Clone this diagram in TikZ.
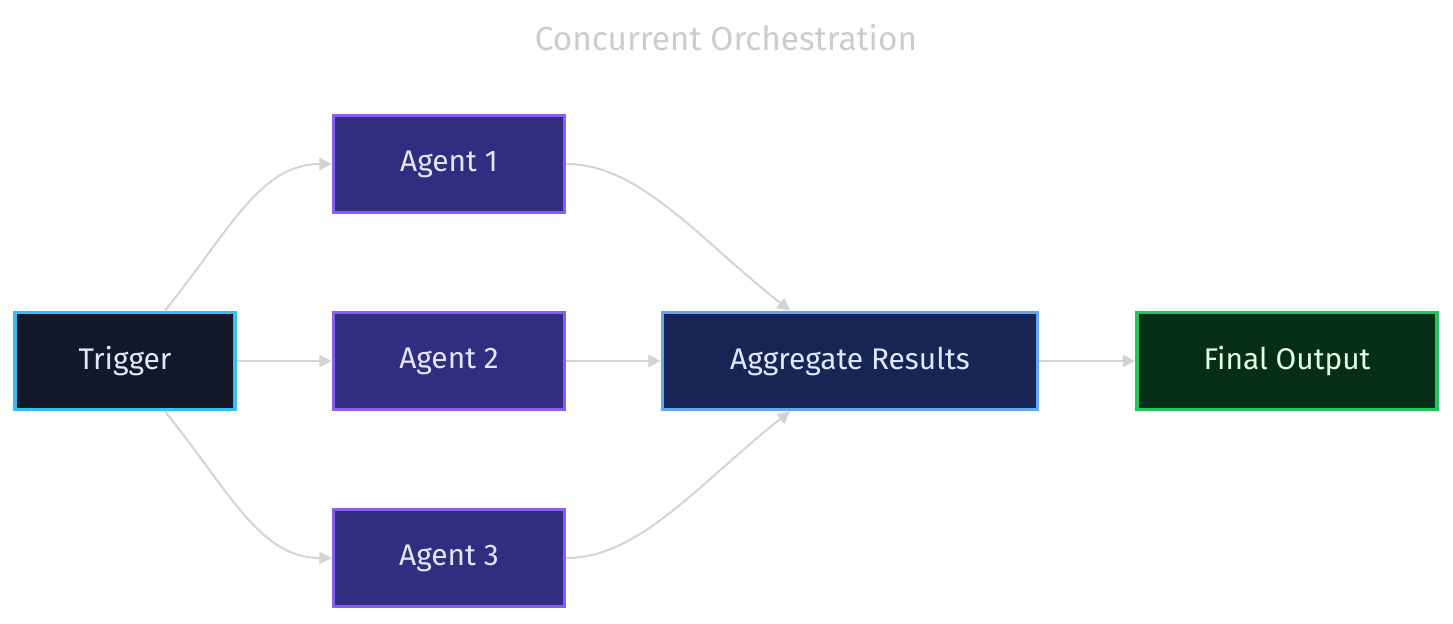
\documentclass[tikz,border=0pt]{standalone}
\usepackage{fontspec}
\setmainfont{Fira Sans}
\usetikzlibrary{positioning,calc,arrows.meta}
\definecolor{edgegray}{HTML}{D3D3D3}
\definecolor{titlegray}{HTML}{CCCCCC}
\definecolor{nodetext}{HTML}{E0E7FF}
\definecolor{trigfill}{HTML}{111827}\definecolor{trigline}{HTML}{38BDF8}
\definecolor{agentfill}{HTML}{312E81}\definecolor{agentline}{HTML}{8B5CF6}
\definecolor{aggfill}{HTML}{172554}\definecolor{aggline}{HTML}{60A5FA}
\definecolor{finfill}{HTML}{052E16}\definecolor{finline}{HTML}{22C55E}
\tikzset{
  box/.style={draw, line width=2.2pt, minimum height=1.94cm, text=nodetext, font=\fontsize{17}{20}\selectfont},
  flow/.style={edgegray, line width=1.1pt, -{Triangle[length=7pt,width=7pt]}}
}
\begin{document}
\begin{tikzpicture}[x=0.02cm,y=-0.02cm]
    \useasboundingbox (0,0) rectangle (1453,623);
    \node[titlegray, font=\fontsize{19}{22}\selectfont] (title) at (726,38) {Concurrent Orchestration};

    % nodes
    \node[box, fill=trigfill, draw=trigline, minimum width=4.4cm] (trig) at (125,361) {Trigger};
    \node[box, fill=agentfill, draw=agentline, minimum width=4.62cm] (ag1) at (449,164) {Agent 1};
    \node[box, fill=agentfill, draw=agentline, minimum width=4.62cm] (ag2) at (449,361) {Agent 2};
    \node[box, fill=agentfill, draw=agentline, minimum width=4.62cm] (ag3) at (449,558) {Agent 3};
    \node[box, fill=aggfill, draw=aggline, minimum width=7.5cm] (agg) at (850,361) {Aggregate Results};
    \node[box, fill=finfill, draw=finline, minimum width=6cm, text=green!10] (fin) at (1287,361) {Final Output};

    % connectors
    \coordinate (t1) at ($(trig.north)+(40,0)$);
    \coordinate (t3) at ($(trig.south)+(40,0)$);
    \coordinate (a1) at ($(agg.north)+(-60,0)$);
    \coordinate (a3) at ($(agg.south)+(-60,0)$);
    \draw[flow] (t1) .. controls (230,230) and (260,164) .. (ag1.west);
    \draw[flow] (t3) .. controls (230,492) and (260,558) .. (ag3.west);
    \draw[flow] (trig) -- (ag2);
    \draw[flow] (ag1.east) .. controls (640,164) and (700,240) .. (a1);
    \draw[flow] (ag3.east) .. controls (640,558) and (700,482) .. (a3);
    \draw[flow] (ag2) -- (agg);
    \draw[flow] (agg) -- (fin);
\end{tikzpicture}
\end{document}
